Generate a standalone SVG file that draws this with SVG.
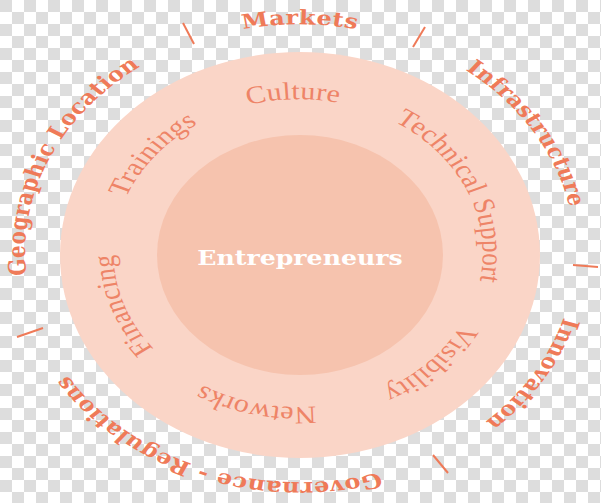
<svg xmlns="http://www.w3.org/2000/svg" xmlns:xlink="http://www.w3.org/1999/xlink" width="601" height="503" viewBox="0 0 601 503">
<style>
.outer{font-family:"DejaVu Serif","Liberation Serif",serif;font-weight:bold;font-size:20px;fill:#ef7a58;letter-spacing:0.4px}
.inner{font-family:"Liberation Serif","DejaVu Serif",serif;font-size:25px;fill:#ee8467;letter-spacing:0.2px}
.core{font-family:"DejaVu Serif","Liberation Serif",serif;font-weight:bold;font-size:21px;fill:#ffffff}
.tick{stroke:#ef7a58;stroke-width:2;fill:none}
</style>
<defs>
<pattern id="checker" width="24" height="24" patternUnits="userSpaceOnUse">
<rect width="24" height="24" fill="#ffffff"/>
<rect width="12" height="12" fill="#dddddd"/>
<rect x="12" y="12" width="12" height="12" fill="#dddddd"/>
</pattern>
<path id="pMarkets" d="M-228.1,-19.96 A229,229 0 0 1 228.1,-19.96"/>
<path id="pInfra" d="M-105.0,-203.5 A229,229 0 0 1 138.8,182.2"/>
<path id="pInnov" d="M137.8,-182.9 A229,229 0 0 1 -104.0,204.0"/>
<path id="pGov" d="M206.7,98.6 A229,229 0 0 1 -220.7,-61.2"/>
<path id="pGeo" d="M-112.8,199.3 A229,229 0 0 1 76.4,-215.9"/>
<path id="pCulture" d="M-153.7,-9.4 A154,154 0 0 1 153.0,-17.4"/>
<path id="pTech" d="M-50.1,-145.6 A154,154 0 0 1 74.7,134.7"/>
<path id="pVis" d="M118.3,-98.6 A154,154 0 0 1 -99.4,117.6"/>
<path id="pNet" d="M146.6,47.1 A154,154 0 0 1 -152.6,-20.9"/>
<path id="pFin" d="M38.8,149.0 A154,154 0 0 1 -64.1,-140.0"/>
<path id="pTrain" d="M-107.2,110.5 A154,154 0 0 1 86.3,-127.5"/>
</defs>
<rect width="601" height="503" fill="url(#checker)"/>
<g id="ring-support">
<ellipse cx="300" cy="255" rx="240" ry="203" fill="#fad5c7"/>
</g>
<g id="node-entrepreneurs">
<ellipse cx="300" cy="255" rx="143" ry="120" fill="#f6c3ae"/>
<text class="core" transform="translate(300,265) scale(1.2,1)" x="0" y="0" text-anchor="middle">Entrepreneurs</text>
</g>
<g id="inner-labels" transform="translate(298,253) scale(1.2,1)">
<g id="node-culture"><text class="inner"><textPath xlink:href="#pCulture" href="#pCulture" startOffset="50%" text-anchor="middle">Culture</textPath></text></g>
<g id="node-technical-support"><text class="inner"><textPath xlink:href="#pTech" href="#pTech" startOffset="50%" text-anchor="middle">Technical Support</textPath></text></g>
<g id="node-visibility"><text class="inner"><textPath xlink:href="#pVis" href="#pVis" startOffset="50%" text-anchor="middle">Visibility</textPath></text></g>
<g id="node-networks"><text class="inner"><textPath xlink:href="#pNet" href="#pNet" startOffset="50%" text-anchor="middle">Networks</textPath></text></g>
<g id="node-financing"><text class="inner"><textPath xlink:href="#pFin" href="#pFin" startOffset="50%" text-anchor="middle">Financing</textPath></text></g>
<g id="node-trainings"><text class="inner"><textPath xlink:href="#pTrain" href="#pTrain" startOffset="50%" text-anchor="middle">Trainings</textPath></text></g>
</g>
<g id="outer-labels" transform="translate(300,253) scale(1.2,1)">
<g id="node-markets"><text class="outer"><textPath xlink:href="#pMarkets" href="#pMarkets" startOffset="50%" text-anchor="middle">Markets</textPath></text></g>
<g id="node-infrastructure"><text class="outer"><textPath xlink:href="#pInfra" href="#pInfra" startOffset="50%" text-anchor="middle">Infrastructure</textPath></text></g>
<g id="node-innovation"><text class="outer"><textPath xlink:href="#pInnov" href="#pInnov" startOffset="50%" text-anchor="middle">Innovation</textPath></text></g>
<g id="node-governance"><text class="outer"><textPath xlink:href="#pGov" href="#pGov" startOffset="50%" text-anchor="middle">Governance - Regulations</textPath></text></g>
<g id="node-geographic"><text class="outer"><textPath xlink:href="#pGeo" href="#pGeo" startOffset="50%" text-anchor="middle">Geographic Location</textPath></text></g>
</g>
<g id="connectors">
<line class="tick" x1="183" y1="23" x2="194" y2="44"/>
<line class="tick" x1="425" y1="27" x2="413" y2="47"/>
<line class="tick" x1="573" y1="265" x2="598" y2="267"/>
<line class="tick" x1="433" y1="455" x2="448" y2="473"/>
<line class="tick" x1="17" y1="337" x2="43" y2="328"/>
</g>
</svg>
